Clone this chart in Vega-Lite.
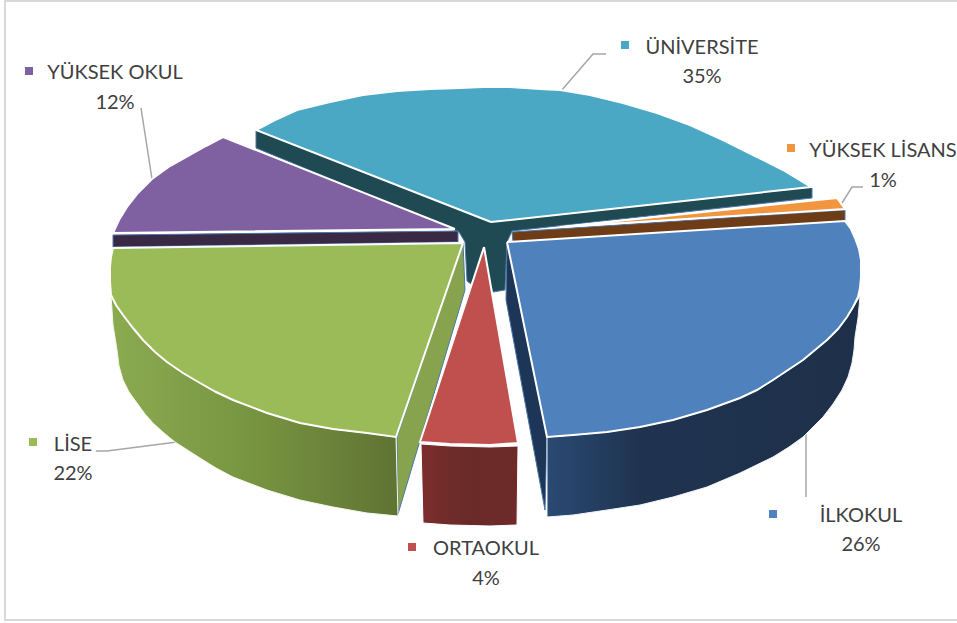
{"$schema":"https://vega.github.io/schema/vega-lite/v6.json","width":957,"height":623,"padding":0,"autosize":"none","background":"white","view":{"stroke":null},
"resolve":{"scale":{"fill":"independent"}},
"datasets":{
"guides":[
{"g":"frame","s":1,"x":957,"y":1},{"g":"frame","s":2,"x":5,"y":1},{"g":"frame","s":3,"x":5,"y":620},{"g":"frame","s":4,"x":957,"y":620}],
"leaders":[
{"g":"ÜNİVERSİTE","s":1,"x":561,"y":91},{"g":"ÜNİVERSİTE","s":2,"x":593,"y":54},{"g":"ÜNİVERSİTE","s":3,"x":606,"y":54},
{"g":"YÜKSEK OKUL","s":1,"x":141,"y":108},{"g":"YÜKSEK OKUL","s":2,"x":152,"y":179},
{"g":"YÜKSEK LİSANS","s":1,"x":842,"y":203},{"g":"YÜKSEK LİSANS","s":2,"x":852,"y":187},{"g":"YÜKSEK LİSANS","s":3,"x":863,"y":187},
{"g":"LİSE","s":1,"x":96,"y":451},{"g":"LİSE","s":2,"x":107,"y":451},{"g":"LİSE","s":3,"x":177,"y":442},
{"g":"İLKOKUL","s":1,"x":806,"y":430},{"g":"İLKOKUL","s":2,"x":806,"y":497}],
"inner":[
{"p":"teal","s":1,"x":256,"y":130},{"p":"teal","s":2,"x":256,"y":148},{"p":"teal","s":3,"x":459,"y":232},{"p":"teal","s":4,"x":465,"y":242},{"p":"teal","s":5,"x":467,"y":281},{"p":"teal","s":6,"x":471,"y":284},{"p":"teal","s":7,"x":483,"y":262},{"p":"teal","s":8,"x":493,"y":292},{"p":"teal","s":9,"x":505,"y":290},{"p":"teal","s":10,"x":507,"y":242},{"p":"teal","s":11,"x":512,"y":231},{"p":"teal","s":12,"x":812,"y":198},{"p":"teal","s":13,"x":812,"y":187},{"p":"teal","s":14,"x":491,"y":222},{"p":"teal","s":15,"x":256,"y":130},
{"p":"purple","s":1,"x":113,"y":235},{"p":"purple","s":2,"x":458,"y":231},{"p":"purple","s":3,"x":458,"y":242},{"p":"purple","s":4,"x":113,"y":247},{"p":"purple","s":5,"x":113,"y":235},
{"p":"brown","s":1,"x":512,"y":232},{"p":"brown","s":2,"x":845,"y":210},{"p":"brown","s":3,"x":845,"y":221},{"p":"brown","s":4,"x":513,"y":242},{"p":"brown","s":5,"x":512,"y":232},
{"p":"navy","s":1,"x":507,"y":243},{"p":"navy","s":2,"x":547,"y":437},{"p":"navy","s":3,"x":545,"y":510},{"p":"navy","s":4,"x":506,"y":300},{"p":"navy","s":5,"x":507,"y":243},
{"p":"olive","s":1,"x":463,"y":243},{"p":"olive","s":2,"x":465,"y":290},{"p":"olive","s":3,"x":398,"y":514},{"p":"olive","s":4,"x":397,"y":437},{"p":"olive","s":5,"x":463,"y":243}],
"wallBlue":[
{"s":1,"x":547,"y":437},{"s":2,"x":573,"y":435},{"s":3,"x":607,"y":432},{"s":4,"x":640,"y":427},{"s":5,"x":673,"y":420},{"s":6,"x":707,"y":410},{"s":7,"x":740,"y":398},{"s":8,"x":757,"y":390},{"s":9,"x":773,"y":380},{"s":10,"x":803,"y":360},{"s":11,"x":827,"y":340},{"s":12,"x":838,"y":329},{"s":13,"x":847,"y":317},{"s":14,"x":854,"y":306},{"s":15,"x":860,"y":296},{"s":16,"x":858,"y":318},{"s":17,"x":855,"y":337},{"s":18,"x":854,"y":350},{"s":19,"x":852,"y":363},{"s":20,"x":848,"y":377},{"s":21,"x":842,"y":390},{"s":22,"x":833,"y":404},{"s":23,"x":823,"y":417},{"s":24,"x":803,"y":437},{"s":25,"x":789,"y":447},{"s":26,"x":773,"y":457},{"s":27,"x":740,"y":473},{"s":28,"x":707,"y":487},{"s":29,"x":673,"y":497},{"s":30,"x":640,"y":505},{"s":31,"x":607,"y":510},{"s":32,"x":573,"y":515},{"s":33,"x":547,"y":517},{"s":34,"x":547,"y":437}],
"wallGreen":[
{"s":1,"x":111,"y":295},{"s":2,"x":113,"y":325},{"s":3,"x":117,"y":350},{"s":4,"x":119,"y":366},{"s":5,"x":123,"y":380},{"s":6,"x":129,"y":392},{"s":7,"x":137,"y":403},{"s":8,"x":145,"y":414},{"s":9,"x":153,"y":423},{"s":10,"x":164,"y":433},{"s":11,"x":175,"y":442},{"s":12,"x":200,"y":458},{"s":13,"x":216,"y":468},{"s":14,"x":233,"y":477},{"s":15,"x":267,"y":490},{"s":16,"x":300,"y":500},{"s":17,"x":333,"y":507},{"s":18,"x":367,"y":513},{"s":19,"x":398,"y":516},{"s":20,"x":396,"y":437},{"s":21,"x":367,"y":433},{"s":22,"x":333,"y":429},{"s":23,"x":300,"y":423},{"s":24,"x":267,"y":413},{"s":25,"x":233,"y":400},{"s":26,"x":216,"y":392},{"s":27,"x":200,"y":383},{"s":28,"x":183,"y":373},{"s":29,"x":167,"y":362},{"s":30,"x":155,"y":352},{"s":31,"x":143,"y":340},{"s":32,"x":133,"y":328},{"s":33,"x":123,"y":315},{"s":34,"x":116,"y":305},{"s":35,"x":111,"y":295}],
"wallRed":[
{"s":1,"x":421,"y":444},{"s":2,"x":450,"y":446},{"s":3,"x":490,"y":447},{"s":4,"x":518,"y":446},{"s":5,"x":517,"y":525},{"s":6,"x":490,"y":526},{"s":7,"x":450,"y":525},{"s":8,"x":423,"y":523},{"s":9,"x":421,"y":444}],
"tops":[
{"p":"ÜNİVERSİTE","s":1,"x":491,"y":222},{"p":"ÜNİVERSİTE","s":2,"x":256,"y":130},{"p":"ÜNİVERSİTE","s":3,"x":275,"y":120},{"p":"ÜNİVERSİTE","s":4,"x":297,"y":110},{"p":"ÜNİVERSİTE","s":5,"x":330,"y":102},{"p":"ÜNİVERSİTE","s":6,"x":363,"y":95},{"p":"ÜNİVERSİTE","s":7,"x":397,"y":91},{"p":"ÜNİVERSİTE","s":8,"x":430,"y":89},{"p":"ÜNİVERSİTE","s":9,"x":460,"y":88},{"p":"ÜNİVERSİTE","s":10,"x":483,"y":87},{"p":"ÜNİVERSİTE","s":11,"x":510,"y":87},{"p":"ÜNİVERSİTE","s":12,"x":540,"y":89},{"p":"ÜNİVERSİTE","s":13,"x":560,"y":90},{"p":"ÜNİVERSİTE","s":14,"x":590,"y":95},{"p":"ÜNİVERSİTE","s":15,"x":623,"y":103},{"p":"ÜNİVERSİTE","s":16,"x":657,"y":113},{"p":"ÜNİVERSİTE","s":17,"x":690,"y":125},{"p":"ÜNİVERSİTE","s":18,"x":723,"y":140},{"p":"ÜNİVERSİTE","s":19,"x":757,"y":157},{"p":"ÜNİVERSİTE","s":20,"x":783,"y":170},{"p":"ÜNİVERSİTE","s":21,"x":811,"y":187},{"p":"ÜNİVERSİTE","s":22,"x":491,"y":222},
{"p":"YÜKSEK LİSANS","s":1,"x":560,"y":227},{"p":"YÜKSEK LİSANS","s":2,"x":837,"y":198},{"p":"YÜKSEK LİSANS","s":3,"x":845,"y":209},{"p":"YÜKSEK LİSANS","s":4,"x":560,"y":227},
{"p":"İLKOKUL","s":1,"x":507,"y":242},{"p":"İLKOKUL","s":2,"x":845,"y":221},{"p":"İLKOKUL","s":3,"x":851,"y":229},{"p":"İLKOKUL","s":4,"x":855,"y":238},{"p":"İLKOKUL","s":5,"x":859,"y":249},{"p":"İLKOKUL","s":6,"x":861,"y":260},{"p":"İLKOKUL","s":7,"x":861,"y":277},{"p":"İLKOKUL","s":8,"x":860,"y":288},{"p":"İLKOKUL","s":9,"x":858,"y":297},{"p":"İLKOKUL","s":10,"x":853,"y":307},{"p":"İLKOKUL","s":11,"x":847,"y":317},{"p":"İLKOKUL","s":12,"x":838,"y":329},{"p":"İLKOKUL","s":13,"x":827,"y":340},{"p":"İLKOKUL","s":14,"x":803,"y":360},{"p":"İLKOKUL","s":15,"x":773,"y":380},{"p":"İLKOKUL","s":16,"x":757,"y":390},{"p":"İLKOKUL","s":17,"x":740,"y":398},{"p":"İLKOKUL","s":18,"x":707,"y":410},{"p":"İLKOKUL","s":19,"x":673,"y":420},{"p":"İLKOKUL","s":20,"x":640,"y":427},{"p":"İLKOKUL","s":21,"x":607,"y":432},{"p":"İLKOKUL","s":22,"x":573,"y":435},{"p":"İLKOKUL","s":23,"x":547,"y":437},{"p":"İLKOKUL","s":24,"x":507,"y":242},
{"p":"ORTAOKUL","s":1,"x":484,"y":247},{"p":"ORTAOKUL","s":2,"x":518,"y":443},{"p":"ORTAOKUL","s":3,"x":490,"y":445},{"p":"ORTAOKUL","s":4,"x":450,"y":444},{"p":"ORTAOKUL","s":5,"x":420,"y":442},{"p":"ORTAOKUL","s":6,"x":484,"y":247},
{"p":"LİSE","s":1,"x":463,"y":243},{"p":"LİSE","s":2,"x":396,"y":437},{"p":"LİSE","s":3,"x":367,"y":433},{"p":"LİSE","s":4,"x":333,"y":429},{"p":"LİSE","s":5,"x":300,"y":423},{"p":"LİSE","s":6,"x":267,"y":413},{"p":"LİSE","s":7,"x":233,"y":400},{"p":"LİSE","s":8,"x":216,"y":392},{"p":"LİSE","s":9,"x":200,"y":383},{"p":"LİSE","s":10,"x":183,"y":373},{"p":"LİSE","s":11,"x":167,"y":362},{"p":"LİSE","s":12,"x":155,"y":352},{"p":"LİSE","s":13,"x":143,"y":340},{"p":"LİSE","s":14,"x":133,"y":328},{"p":"LİSE","s":15,"x":123,"y":315},{"p":"LİSE","s":16,"x":116,"y":305},{"p":"LİSE","s":17,"x":111,"y":295},{"p":"LİSE","s":18,"x":110,"y":282},{"p":"LİSE","s":19,"x":110,"y":267},{"p":"LİSE","s":20,"x":111,"y":257},{"p":"LİSE","s":21,"x":113,"y":248},{"p":"LİSE","s":22,"x":463,"y":243},
{"p":"YÜKSEK OKUL","s":1,"x":455,"y":229},{"p":"YÜKSEK OKUL","s":2,"x":223,"y":137},{"p":"YÜKSEK OKUL","s":3,"x":206,"y":146},{"p":"YÜKSEK OKUL","s":4,"x":190,"y":155},{"p":"YÜKSEK OKUL","s":5,"x":170,"y":166},{"p":"YÜKSEK OKUL","s":6,"x":152,"y":179},{"p":"YÜKSEK OKUL","s":7,"x":138,"y":193},{"p":"YÜKSEK OKUL","s":8,"x":127,"y":207},{"p":"YÜKSEK OKUL","s":9,"x":119,"y":220},{"p":"YÜKSEK OKUL","s":10,"x":113,"y":233},{"p":"YÜKSEK OKUL","s":11,"x":455,"y":229}],
"labels":[
{"cat":"ÜNİVERSİTE","share":"35%","x":702,"y":48,"y2":77,"kx":625,"ky":45},
{"cat":"YÜKSEK LİSANS","share":"1%","x":883,"y":151,"y2":181,"kx":791,"ky":148},
{"cat":"İLKOKUL","share":"26%","x":861,"y":516,"y2":545,"kx":773,"ky":514},
{"cat":"ORTAOKUL","share":"4%","x":486,"y":549,"y2":579,"kx":412,"ky":547},
{"cat":"LİSE","share":"22%","x":73,"y":445,"y2":474,"kx":33,"ky":442},
{"cat":"YÜKSEK OKUL","share":"12%","x":115,"y":73,"y2":103,"kx":29,"ky":71}]
},
"encoding":{
"x":{"field":"x","type":"quantitative","scale":{"domain":[0,957],"nice":false,"zero":false},"axis":null},
"y":{"field":"y","type":"quantitative","scale":{"domain":[623,0],"nice":false,"zero":false},"axis":null}},
"layer":[
{"data":{"name":"guides"},"mark":{"type":"line","stroke":"#d9d9d9","strokeWidth":2},"encoding":{"detail":{"field":"g"},"order":{"field":"s"}}},
{"data":{"name":"leaders"},"mark":{"type":"line","stroke":"#a6a6a6","strokeWidth":1.5},"encoding":{"detail":{"field":"g"},"order":{"field":"s"}}},
{"data":{"name":"inner"},"mark":{"type":"line","strokeWidth":1},"encoding":{"order":{"field":"s"},"detail":{"field":"p"},
"fill":{"field":"p","legend":null,"scale":{"domain":["teal","purple","brown","navy","olive"],"range":["#1f4a54","#392945","#6e3d17","#1d3557","#87a34d"]}}}},
{"data":{"name":"wallBlue"},"mark":{"type":"line","stroke":"#f0f4f8","strokeWidth":1,"fill":{"gradient":"linear","x1":0,"y1":0,"x2":1,"y2":0,"stops":[{"offset":0,"color":"#2a4a72"},{"offset":0.3,"color":"#1f3350"},{"offset":1,"color":"#1e3049"}]}},"encoding":{"order":{"field":"s"}}},
{"data":{"name":"wallGreen"},"mark":{"type":"line","stroke":"#f4f8ec","strokeWidth":1,"fill":{"gradient":"linear","x1":0,"y1":0,"x2":1,"y2":0,"stops":[{"offset":0,"color":"#8bab50"},{"offset":0.55,"color":"#75913f"},{"offset":1,"color":"#5f7333"}]}},"encoding":{"order":{"field":"s"}}},
{"data":{"name":"wallRed"},"mark":{"type":"line","stroke":"white","strokeWidth":1,"fill":{"gradient":"linear","x1":0,"y1":0,"x2":1,"y2":0,"stops":[{"offset":0,"color":"#7a2e2c"},{"offset":0.5,"color":"#6a2a28"},{"offset":1,"color":"#6e2a28"}]}},"encoding":{"order":{"field":"s"}}},
{"data":{"name":"tops"},"mark":{"type":"line","stroke":"white","strokeWidth":2},"encoding":{"order":{"field":"s"},"detail":{"field":"p"},
"fill":{"field":"p","legend":null,"scale":{"domain":["ÜNİVERSİTE","YÜKSEK LİSANS","İLKOKUL","ORTAOKUL","LİSE","YÜKSEK OKUL"],"range":["#4aa8c5","#f2953f","#4f81bd","#c0504d","#9bbb59","#7f60a0"]}}}},
{"data":{"name":"labels"},"mark":{"type":"text","font":"Lato","fontSize":20,"fill":"#404040"},"encoding":{"text":{"field":"cat"}}},
{"data":{"name":"labels"},"mark":{"type":"text","font":"Lato","fontSize":20,"fill":"#404040"},"encoding":{"y":{"field":"y2","type":"quantitative"},"text":{"field":"share"}}},
{"data":{"name":"labels"},"mark":{"type":"point","shape":"square","filled":true,"size":64,"opacity":1},"encoding":{"x":{"field":"kx","type":"quantitative"},"y":{"field":"ky","type":"quantitative"},
"fill":{"field":"cat","legend":null,"scale":{"domain":["ÜNİVERSİTE","YÜKSEK LİSANS","İLKOKUL","ORTAOKUL","LİSE","YÜKSEK OKUL"],"range":["#4aa8c5","#f2953f","#4f81bd","#c0504d","#9bbb59","#7f60a0"]}}}}
]}
